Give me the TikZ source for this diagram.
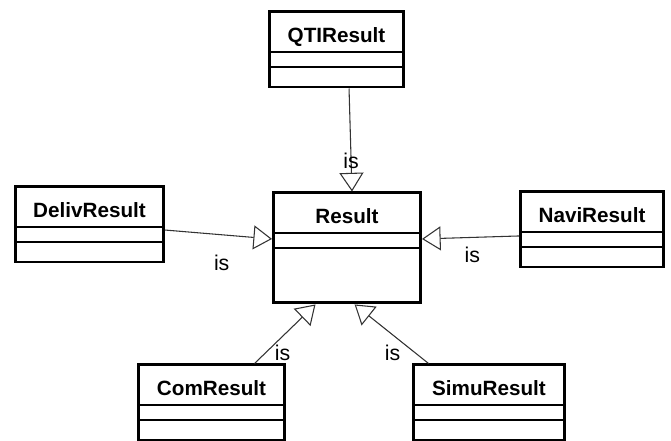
\documentclass[tikz,border=0pt]{standalone}
\usepackage{fontspec}
\setmainfont{Liberation Sans}
\usetikzlibrary{arrows.meta,positioning,calc}

\begin{document}
\begin{tikzpicture}[x=0.75pt,y=-0.75pt,
    cls/.style={draw,line width=2.2pt,anchor=north,inner xsep=0pt,inner ysep=0pt,text height=22.9pt,text depth=33.4pt,font=\fontsize{15.5}{18}\selectfont\bfseries},
    sep/.style={line width=1pt},
    isa/.style={draw=black!80,line width=0.8pt,-{Triangle[open,length=14pt,width=18pt,line width=0.8pt]}},
    islab/.style={font=\fontsize{16}{18}\selectfont,inner sep=0pt}]
              \useasboundingbox (0,0) rectangle (671,441);

              \node[cls,minimum width=100.5pt] (qti) at (336.5,10.5) {QTIResult};
              \node[cls,minimum width=111pt] (deliv) at (89.5,185.5) {DelivResult};
              \node[cls,minimum width=110.25pt,text depth=59.6pt] (res) at (347,191.5) {Result};
              \node[cls,minimum width=107.25pt] (navi) at (592,190.5) {NaviResult};
              \node[cls,minimum width=109.5pt] (com) at (211.5,363.5) {ComResult};
              \node[cls,minimum width=113.25pt] (simu) at (489,363.5) {SimuResult};

              \foreach \n in {qti,deliv,res,navi,com,simu}{
                \draw[sep] ([yshift=-31.1pt]\n.north west) -- ([yshift=-31.1pt]\n.north east);
                \draw[sep] ([yshift=-42.4pt]\n.north west) -- ([yshift=-42.4pt]\n.north east);
              }

              \draw[isa] ([xshift=9.4pt]qti.south) -- node[islab,pos=0.7] {is} ([xshift=3.75pt]res.north);
              \draw[isa] ([yshift=-33.4pt]deliv.north east) -- node[islab,pos=0.53,yshift=-21pt] {is} ([yshift=-35.6pt]res.north west);
              \draw[isa] ([yshift=-34.1pt]navi.north west) -- node[islab,pos=0.48,yshift=-13.2pt] {is} ([yshift=-35.6pt]res.north east);
              \draw[isa] ([xshift=88.1pt]com.north west) -- node[islab,pos=0.18,xshift=12.75pt] {is} ([xshift=32.6pt]res.south west);
              \draw[isa] ([xshift=12.4pt]simu.north west) -- node[islab,pos=0.18,xshift=-17pt] {is} ([xshift=61.9pt]res.south west);
            \end{tikzpicture}
\end{document}
